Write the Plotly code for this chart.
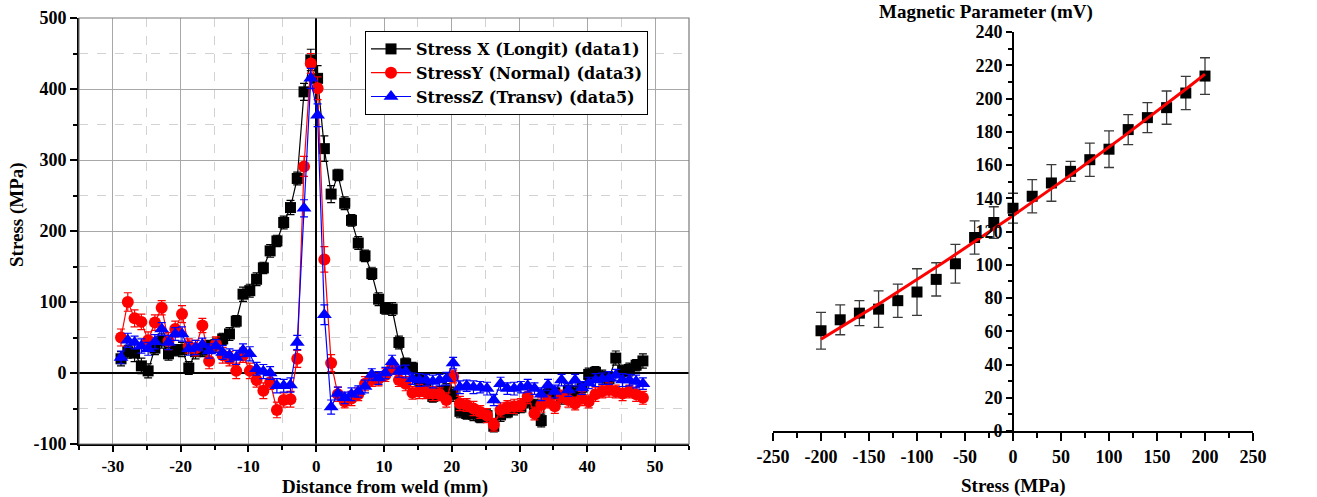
import numpy as np
import plotly.graph_objects as go

# ---------------- Left chart data ----------------
distance_mm = [d + 0.2 for d in range(-29, 49)]

stress_x = [20, 30, 28, 10, 3, 35, 45, 27, 32, 33,
            7, 30, 32, 38, 40, 48, 55, 73, 111, 116,
            132, 148, 172, 186, 212, 233, 274, 396, 441, 415,
            316, 252, 279, 239, 215, 183, 165, 140, 104, 91,
            90, 43, 13, 7, -10, -20, -33, -28, -24, -30,
            -54, -57, -58, -62, -60, -75, -59, -55, -50, -48,
            -40, -45, -67, -30, -28, -35, -25, -28, -20, -2,
            1, -5, -8, 21, 3, 5, 11, 17]
stress_x_err = [10, 9, 12, 11, 10, 9, 10, 9, 8, 10,
                9, 10, 9, 8, 9, 8, 9, 8, 10, 9,
                9, 8, 9, 8, 9, 10, 9, 12, 15, 18,
                18, 12, 8, 9, 8, 9, 8, 8, 9, 8,
                9, 9, 8, 8, 8, 9, 8, 9, 9, 10,
                9, 8, 9, 8, 9, 8, 9, 8, 9, 8,
                9, 8, 9, 8, 8, 9, 8, 9, 8, 9,
                8, 9, 8, 10, 8, 9, 8, 10]

stress_y = [50, 100, 77, 72, 46, 71, 92, 45, 62, 83,
            38, 35, 67, 17, 41, 25, 20, 3, 25, 3,
            -10, -25, -13, -52, -38, -37, 20, 291, 436, 401,
            160, 14, -30, -40, -36, -30, -15, -10, -8, -3,
            8, -10, -15, -28, -26, -27, -29, -30, -38, -5,
            -43, -45, -50, -55, -60, -73, -52, -48, -47, -45,
            -33, -57, -45, -40, -47, -33, -38, -43, -36, -40,
            -30, -26, -24, -26, -29, -26, -30, -35]
stress_y_err = [12, 13, 12, 11, 12, 11, 10, 12, 11, 12,
                10, 11, 10, 11, 10, 11, 10, 11, 10, 11,
                10, 11, 10, 11, 10, 11, 12, 14, 14, 16,
                18, 12, 10, 9, 10, 9, 10, 9, 10, 9,
                10, 9, 10, 9, 10, 9, 10, 9, 10, 9,
                10, 9, 10, 9, 10, 9, 10, 9, 10, 9,
                10, 9, 10, 9, 10, 9, 10, 9, 10, 9,
                10, 9, 10, 9, 10, 9, 10, 9]

stress_z = [22, 46, 43, 38, 34, 44, 62, 43, 55, 55,
            34, 36, 40, 31, 38, 29, 25, 22, 32, 27,
            6, 2, 0, -18, -18, -17, 43, 232, 415, 363,
            82, -48, -29, -35, -30, -26, -19, -2, -7, 0,
            16, 2, 2, -8, -10, -10, -12, -10, -8, 14,
            -20, -18, -20, -20, -22, -38, -15, -22, -22, -20,
            -18, -22, -30, -17, -26, -10, -24, -10, -21, -14,
            -10, -8, -7, -3, -10, -10, -12, -15]
stress_z_err = [9, 10, 9, 10, 9, 10, 9, 10, 9, 10,
                9, 10, 9, 10, 9, 10, 9, 10, 9, 10,
                9, 10, 9, 10, 9, 10, 10, 12, 14, 16,
                14, 10, 9, 8, 9, 8, 9, 8, 9, 8,
                9, 8, 9, 8, 9, 8, 9, 8, 9, 8,
                9, 8, 9, 8, 9, 8, 9, 8, 9, 8,
                9, 8, 9, 8, 9, 8, 9, 8, 9, 8,
                9, 8, 9, 8, 9, 8, 9, 8]

left_xticks = [-30, -20, -10, 0, 10, 20, 30, 40, 50]
left_yticks = [-100, 0, 100, 200, 300, 400, 500]

# ---------------- Right chart data ----------------
applied_stress = [-200, -180, -160, -140, -120, -100, -80, -60, -40, -20, 0,
                  20, 40, 60, 80, 100, 120, 140, 160, 180, 200]
magnetic_mv = [60.3, 66.9, 70.9, 73.3, 78.4, 83.6, 91.2, 100.6, 116.4, 125.4, 134.0,
               141.2, 149.2, 156.2, 163.2, 169.5, 181.3, 188.5, 194.5, 203.3, 213.5]
magnetic_err = [11, 9, 7.5, 11, 10, 14, 10, 11.7, 10, 9.5, 9,
                10, 11, 6, 10, 11, 9, 9, 10, 10, 11]
right_xticks = [-250, -200, -150, -100, -50, 0, 50, 100, 150, 200, 250]
right_yticks = [0, 20, 40, 60, 80, 100, 120, 140, 160, 180, 200, 220, 240]

SERIF = "Liberation Serif, Times New Roman, serif"
WIDE_SERIF = "DejaVu Serif, Liberation Serif, serif"
W, H = 1317, 497


def px_x(p):
    return p / W


def px_y(p):
    return 1 - p / H


fig = go.Figure()

series = [
    ("<b>Stress X (Longit) (data1)</b>", stress_x, stress_x_err, "black", "square", 11),
    ("<b>StressY (Normal) (data3)</b>", stress_y, stress_y_err, "red", "circle", 12),
    ("<b>StressZ (Transv) (data5)</b>", stress_z, stress_z_err, "blue", "triangle-up", 13),
]
for name, yv, ev, col, sym, sz in series:
    fig.add_trace(go.Scatter(
        x=distance_mm, y=yv, name=name, mode="lines+markers",
        line=dict(color=col, width=1.2),
        marker=dict(symbol=sym, size=sz, color=col),
        error_y=dict(type="data", array=ev, visible=True, color=col, thickness=1.2, width=4),
        xaxis="x", yaxis="y",
    ))

# fit line for right chart (quadratic fit of the measured points)
coef = np.polyfit(applied_stress, magnetic_mv, 2)
fit_x = np.linspace(min(applied_stress), max(applied_stress), 200)
fit_y = np.polyval(coef, fit_x)

fig.add_trace(go.Scatter(
    x=applied_stress, y=magnetic_mv, mode="markers", showlegend=False,
    marker=dict(symbol="square", size=11, color="black"),
    error_y=dict(type="data", array=magnetic_err, visible=True, color="#3a3a3a", thickness=1.3, width=5),
    xaxis="x2", yaxis="y2",
))
fig.add_trace(go.Scatter(
    x=fit_x, y=fit_y, mode="lines", showlegend=False,
    line=dict(color="red", width=3),
    xaxis="x2", yaxis="y2",
))

tickfont = dict(family=SERIF, size=18, color="black", weight="bold")
xtickfont = dict(family=SERIF, size=17, color="black", weight="bold")

lx0, lx1 = px_x(79), px_x(689)
ly0, ly1 = px_y(444), px_y(18)
rx0, rx1 = px_x(773), px_x(1253)
ry0, ry1 = px_y(431), px_y(32)


def label(text, x, y, size, angle=0):
    return dict(text="<b>%s</b>" % text, x=px_x(x), y=px_y(y), xref="paper", yref="paper",
                xanchor="center", yanchor="middle", textangle=angle, showarrow=False,
                font=dict(family=SERIF, size=size, color="black"))


common = dict(automargin=False, tickcolor="black", showline=True, linecolor="black",
              linewidth=2, tickwidth=2, ticks="outside")

fig.update_layout(
    template="none",
    width=W, height=H,
    margin=dict(l=0, r=0, t=0, b=0),
    paper_bgcolor="white", plot_bgcolor="white",
    showlegend=True,
    legend=dict(
        x=px_x(365), y=px_y(31), xanchor="left", yanchor="top",
        bordercolor="black", borderwidth=1, bgcolor="white",
        font=dict(family=WIDE_SERIF, size=16, color="black"),
        tracegroupgap=0, itemwidth=40,
    ),
    xaxis=dict(
        domain=[lx0, lx1], range=[-35, 55], anchor="y",
        tickmode="array", tickvals=left_xticks, ticktext=[str(v) for v in left_xticks],
        ticklen=6, tickfont=xtickfont,
        showgrid=True, gridcolor="#a8a8a8", gridwidth=1,
        zeroline=True, zerolinecolor="black", zerolinewidth=2,
        minor=dict(dtick=5, tick0=0, ticks="outside", ticklen=4, tickwidth=1.5, tickcolor="black",
                   showgrid=True, gridcolor="#d2d2d2", griddash="dash", gridwidth=1),
        **common,
    ),
    yaxis=dict(
        domain=[ly0, ly1], range=[-100, 500], anchor="x",
        tickmode="array", tickvals=left_yticks, ticktext=[str(v) for v in left_yticks],
        ticklen=7, tickfont=tickfont,
        showgrid=True, gridcolor="#a8a8a8", gridwidth=1,
        zeroline=True, zerolinecolor="black", zerolinewidth=2,
        minor=dict(dtick=50, tick0=0, ticks="outside", ticklen=4, tickwidth=1.5, tickcolor="black",
                   showgrid=True, gridcolor="#d2d2d2", griddash="dash", gridwidth=1),
        **common,
    ),
    xaxis2=dict(
        domain=[rx0, rx1], range=[-250, 250], anchor="y2",
        tickmode="array", tickvals=right_xticks, ticktext=[str(v) for v in right_xticks],
        ticklen=8, tickfont=tickfont,
        showgrid=False, zeroline=False,
        minor=dict(dtick=25, tick0=0, ticks="outside", ticklen=5, tickwidth=1.5, tickcolor="black"),
        **common,
    ),
    yaxis2=dict(
        domain=[ry0, ry1], range=[0, 240], anchor="free", position=(rx0 + rx1) / 2,
        tickmode="array", tickvals=right_yticks, ticktext=[str(v) for v in right_yticks],
        ticklen=6, tickfont=tickfont,
        showgrid=False, zeroline=False,
        minor=dict(dtick=10, tick0=0, ticks="outside", ticklen=4, tickwidth=1.5, tickcolor="black"),
        **common,
    ),
    shapes=[
        dict(type="rect", xref="paper", yref="paper", x0=lx0, x1=lx1, y0=ly0, y1=ly1,
             line=dict(color="#7a7a7a", width=1.2), layer="above"),
    ],
    annotations=[
        label("Stress (MPa)", 17, 215, 19, -90),
        label("Distance from weld (mm)", 385, 487, 19),
        label("Magnetic Parameter (mV)", 986, 12, 19),
        label("Stress (MPa)", 1013, 486, 19),
    ],
)

fig.write_html("out.html")
